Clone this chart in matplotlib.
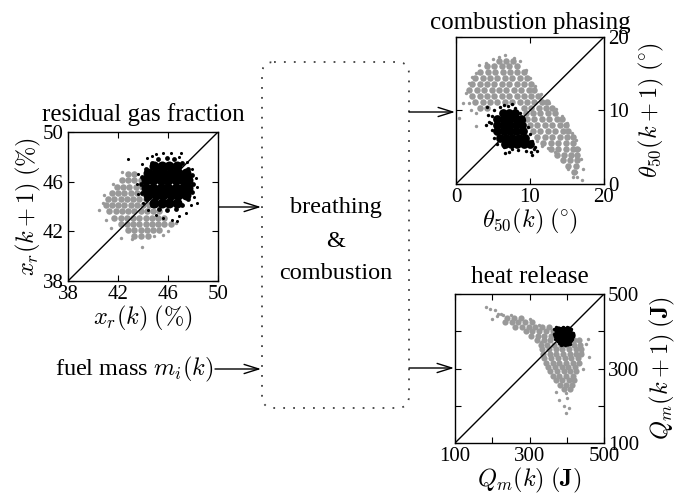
import matplotlib
matplotlib.use("Agg")
import matplotlib.pyplot as plt
from matplotlib.patches import FancyBboxPatch

plt.rcParams['font.family'] = ['Liberation Serif', 'DejaVu Serif']
plt.rcParams['mathtext.fontset'] = 'cm'
plt.rcParams['font.size'] = 15

GRAY = '0.6'
LBL = 17.5

# residual gas fraction x_r(k) vs x_r(k+1), %; open loop cloud stored row by row
xr_open_rows_y = [46.6, 46.1, 45.6, 45.1, 44.6, 44.1, 43.6, 43.1, 42.6, 42.1, 41.6]
xr_open_rows_x = [[42.8, 43.3],
                  [42.3, 42.8, 43.3, 43.8],
                  [41.9, 42.4, 42.9, 43.4, 43.9],
                  [41.5, 42.0, 42.5, 43.0, 43.5, 44.0],
                  [41.2, 41.7, 42.2, 42.7, 43.2, 43.7, 44.2],
                  [41.0, 41.5, 42.0, 42.5, 43.0, 43.5, 44.0, 44.5],
                  [41.3, 41.8, 42.3, 42.8, 43.3, 43.8, 44.3, 44.8, 45.3],
                  [41.7, 42.2, 42.7, 43.2, 43.7, 44.2, 44.7, 45.2, 45.7],
                  [42.2, 42.7, 43.2, 43.7, 44.2, 44.7, 45.2, 45.7, 46.2],
                  [42.8, 43.3, 43.8, 44.3, 44.8, 45.3],
                  [43.3, 43.8, 44.4]]
xr_open_sparse_x = [40.5, 40.9, 41.0, 41.4, 42.2, 43.1, 43.9, 44.9, 46.0, 46.6, 41.6, 42.3, 40.8, 45.6]
xr_open_sparse_y = [43.7, 44.9, 42.9, 42.3, 41.5, 41.4, 40.7, 41.6, 42.0, 42.7, 45.8, 46.8, 44.3, 41.7]
xr_ctrl_rows_y = [47.3, 46.7, 46.1, 45.5, 44.9, 44.3]
xr_ctrl_rows_x = [[44.9, 45.5, 46.1, 46.7],
                  [44.4, 45.0, 45.6, 46.2, 46.8, 47.4],
                  [44.2, 44.8, 45.4, 46.0, 46.6, 47.2, 47.6],
                  [44.2, 44.8, 45.4, 46.0, 46.6, 47.2, 47.6],
                  [44.4, 45.0, 45.6, 46.2, 46.8, 47.4],
                  [44.9, 45.5, 46.1, 46.7]]
xr_ctrl_ring_x = [48.0, 47.9, 47.6, 47.1, 46.5, 45.9, 45.2, 44.7, 44.2, 43.9, 43.8, 43.9, 44.2, 44.7, 45.3, 45.9,
                  46.6, 47.1, 47.6, 47.9]
xr_ctrl_ring_y = [45.8, 46.5, 47.0, 47.5, 47.8, 47.9, 47.8, 47.5, 47.0, 46.4, 45.8, 45.1, 44.6, 44.1, 43.8, 43.7,
                  43.8, 44.1, 44.6, 45.2]
xr_ctrl_sparse_x = [43.9, 44.3, 45.0, 45.6, 46.2, 46.9, 47.5, 47.9, 48.2, 48.3, 48.1, 47.8, 47.4, 46.9, 46.3, 45.6,
                    45.0, 44.4, 44.0, 43.6, 43.5, 43.6, 42.8, 46.7, 48.3, 47.0, 44.7]
xr_ctrl_sparse_y = [47.4, 47.9, 48.2, 48.3, 48.3, 48.0, 47.6, 47.0, 46.3, 45.6, 44.8, 44.1, 43.5, 43.2, 42.9, 43.1,
                    43.3, 43.7, 44.3, 45.0, 45.8, 46.6, 47.85, 42.8, 44.3, 48.3, 48.1]

# combustion phasing theta50(k) vs theta50(k+1), deg
th_open_rows_y = [16.8, 16.0, 15.2, 14.4, 13.6, 12.8, 12.0, 11.2, 10.4, 9.6, 8.8, 8.0, 7.2, 6.4, 5.6, 4.8, 4.0,
                  3.2, 2.4, 1.6]
th_open_rows_x = [[5.8, 6.8, 7.7],
                  [4.2, 5.2, 6.2, 7.2, 8.2],
                  [3.3, 4.3, 5.3, 6.3, 7.3, 8.3, 9.2],
                  [2.6, 3.6, 4.6, 5.6, 6.6, 7.6, 8.6, 9.6],
                  [2.2, 3.2, 4.2, 5.2, 6.2, 7.2, 8.2, 9.2, 10.1],
                  [1.8, 2.8, 3.8, 4.8, 5.8, 6.8, 7.8, 8.8, 9.8, 10.6],
                  [2.2, 3.2, 4.2, 5.2, 6.2, 7.2, 8.2, 9.2, 10.2, 11.1],
                  [2.6, 3.6, 4.6, 5.6, 6.6, 7.6, 8.6, 9.6, 10.6, 11.6, 12.3],
                  [3.2, 4.2, 9.2, 10.2, 11.2, 12.2, 13.0],
                  [9.4, 10.4, 11.4, 12.4, 13.4],
                  [9.6, 10.6, 11.6, 12.6, 13.6, 14.3],
                  [10.0, 11.0, 12.0, 13.0, 14.0, 14.8],
                  [10.4, 11.4, 12.4, 13.4, 14.4, 15.2],
                  [11.0, 12.0, 13.0, 14.0, 15.0, 15.8],
                  [11.8, 12.8, 13.8, 14.8, 15.8],
                  [12.8, 13.8, 14.8, 15.8, 16.4],
                  [13.6, 14.6, 15.6, 16.4],
                  [14.4, 15.4, 16.3],
                  [15.2, 16.2],
                  [16.0]]
th_open_sparse_x = [2.7, 4.0, 5.8, 6.6, 7.8, 8.6, 9.4, 10.0, 10.7, 11.5, 12.5, 13.5, 14.3, 15.0, 15.7, 16.2, 16.6,
                    16.9, 17.2, 17.0, 16.2, 15.2, 14.4, 13.4, 12.4, 11.6, 10.9, 1.8, 1.3, 1.8, 2.2, 2.7, 2.7,
                    0.45, 3.4, 3.1, 5.0, 1.0, 2.0, 16.4, 15.8]
th_open_sparse_y = [15.1, 16.4, 17.3, 17.5, 17.1, 16.7, 15.5, 14.4, 13.3, 12.3, 11.05, 10.2, 9.3, 8.3, 7.0, 6.0, 4.8,
                    3.4, 2.1, 0.5, 1.6, 2.1, 3.1, 4.3, 4.9, 5.2, 5.9, 11.05, 12.4, 13.7, 14.6, 9.7, 7.9,
                    9.0, 10.4, 16.2, 17.0, 11.0, 10.0, 0.9, 1.0]
th_ctrl_rows_y = [9.7, 8.85, 8.0, 7.15, 6.3, 5.45]
th_ctrl_rows_x = [[6.3, 7.15, 8.0],
                  [5.6, 6.45, 7.3, 8.15, 8.8],
                  [5.5, 6.35, 7.2, 8.05, 8.9],
                  [5.6, 6.45, 7.3, 8.15, 9.0],
                  [5.9, 6.75, 7.6, 8.45, 9.3],
                  [6.6, 7.45, 8.3, 9.15, 10.0]]
th_ctrl_sparse_x = [5.9, 7.0, 8.0, 8.7, 9.2, 9.7, 10.0, 10.3, 10.7, 11.0, 10.2, 9.4, 8.4, 7.5, 6.5, 5.6, 5.1, 4.8,
                    4.7, 4.9, 5.2, 4.3, 4.0, 6.6, 10.3, 4.25, 4.5, 7.2, 6.5, 7.6, 9.9, 10.6]
th_ctrl_sparse_y = [10.5, 10.6, 10.3, 9.6, 8.7, 7.8, 6.8, 5.8, 5.0, 4.5, 4.3, 4.5, 4.6, 4.8, 5.1, 5.5, 6.3, 7.3,
                    8.3, 9.3, 10.0, 9.4, 8.0, 4.2, 3.9, 10.5, 8.4, 4.3, 10.8, 10.9, 5.2, 4.7]

# heat release Q_m(k) vs Q_m(k+1), J
qm_open_rows_y = [436, 424, 412, 400, 388, 376, 364, 352, 340, 328, 316, 304, 292, 280, 268, 256, 246]
qm_open_rows_x = [[240, 258, 276],
                  [235, 252, 270, 288, 306],
                  [262, 280, 298, 316, 334, 352],
                  [290, 308, 326, 344, 362],
                  [305, 322, 340, 358],
                  [320, 338, 356, 420, 432],
                  [330, 348, 366, 384, 402, 420, 436],
                  [334, 352, 370, 388, 406, 424, 438],
                  [336, 354, 372, 390, 408, 426, 438],
                  [340, 358, 376, 394, 412, 430],
                  [344, 362, 380, 398, 416, 432],
                  [350, 368, 386, 404, 422],
                  [356, 374, 392, 410, 426],
                  [362, 380, 398, 416],
                  [370, 388, 406, 420],
                  [382, 398, 414],
                  [392, 408]]
qm_open_sparse_x = [184, 193, 207, 224, 198, 215, 230, 380, 398, 393, 407, 398, 456, 460, 451, 440, 402, 212, 250,
                    300, 326, 444, 330, 372]
qm_open_sparse_y = [464, 460, 456, 447, 433, 447, 443, 216, 233, 198, 193, 180, 380, 331, 367, 345, 222, 440, 444,
                    432, 418, 300, 372, 238]
qm_ctrl_rows_y = [403, 391, 379, 370]
qm_ctrl_rows_x = [[376, 390, 404],
                  [374, 388, 402, 412],
                  [378, 392, 406],
                  [388, 402]]
qm_ctrl_sparse_x = [365, 372, 390, 412, 416, 414, 410, 395, 380, 368, 366, 402, 384]
qm_ctrl_sparse_y = [405, 411, 412, 407, 395, 380, 366, 362, 368, 380, 392, 412, 364]


def unrows(rows_y, rows_x):
    xs = [x for row in rows_x for x in row]
    ys = [y for y, row in zip(rows_y, rows_x) for _ in row]
    return xs, ys


W, H = 686, 498
fig = plt.figure(figsize=(W / 100, H / 100), dpi=100)

# block diagram layer, in pixel coordinates
bg = fig.add_axes([0, 0, 1, 1])
bg.set_xlim(0, W)
bg.set_ylim(H, 0)
bg.axis('off')
bg.add_patch(FancyBboxPatch((262, 62), 147, 346, boxstyle='round,pad=0,rounding_size=12',
                            fill=False, ls=(0, (1, 4.5)), lw=1.3, ec='0.25'))
bg.text(336, 207, 'breathing', ha='center', va='center', fontsize=LBL)
bg.text(336, 241, '&', ha='center', va='center', fontsize=LBL)
bg.text(336, 273, 'combustion', ha='center', va='center', fontsize=LBL)
bg.text(213, 369, r'fuel mass $m_i(k)$', ha='right', va='center', fontsize=LBL)
arr = dict(arrowstyle='->,head_length=0.7,head_width=0.22', lw=1.0, color='black', shrinkA=0, shrinkB=0)
for (x0, y0), (x1, y1) in [((218, 207), (261, 207)), ((215, 369), (261, 369)),
                           ((409, 112), (455, 112)), ((409, 368), (454, 368))]:
    bg.annotate('', xy=(x1, y1), xytext=(x0, y0), arrowprops=arr)


def scatter_panel(ax, lim, sets):
    for xs, ys, c, s in sets:
        ax.scatter(xs, ys, s=s, c=c, marker='o', linewidths=0)
    ax.plot(lim, lim, color='black', lw=1.0)
    ax.set_xlim(lim)
    ax.set_ylim(lim)
    ax.tick_params(direction='in', length=4, width=0.8, top=True, right=True, pad=3)
    for sp in ax.spines.values():
        sp.set_linewidth(1.0)


ax1 = fig.add_axes([68 / W, 1 - 281 / H, 150 / W, 149 / H])
scatter_panel(ax1, (38, 50), [(*unrows(xr_open_rows_y, xr_open_rows_x), GRAY, 22),
                              (xr_open_sparse_x, xr_open_sparse_y, GRAY, 6),
                              (*unrows(xr_ctrl_rows_y, xr_ctrl_rows_x), 'black', 52),
                              (xr_ctrl_ring_x, xr_ctrl_ring_y, 'black', 12),
                              (xr_ctrl_sparse_x, xr_ctrl_sparse_y, 'black', 5)])
ax1.set_xticks([38, 42, 46, 50])
ax1.set_yticks([38, 42, 46, 50])
ax1.set_xlabel(r'$x_r(k)$ $(\%)$', labelpad=0, fontsize=LBL)
ax1.set_ylabel(r'$x_r(k+1)$ $(\%)$', labelpad=0, fontsize=LBL)
ax1.set_title('residual gas fraction', pad=8)

ax2 = fig.add_axes([456 / W, 1 - 184 / H, 148 / W, 147 / H])
scatter_panel(ax2, (0, 20), [(*unrows(th_open_rows_y, th_open_rows_x), GRAY, 22),
                             (th_open_sparse_x, th_open_sparse_y, GRAY, 6),
                             (*unrows(th_ctrl_rows_y, th_ctrl_rows_x), 'black', 40),
                             (th_ctrl_sparse_x, th_ctrl_sparse_y, 'black', 6)])
ax2.set_xticks([0, 10, 20])
ax2.set_yticks([0, 10, 20])
ax2.yaxis.tick_right()
ax2.tick_params(left=True, labelleft=False)
ax2.yaxis.set_label_position('right')
ax2.set_xlabel(r'$\theta_{50}(k)$ $(\!^\circ\!)$', labelpad=0, fontsize=LBL)
ax2.set_ylabel(r'$\theta_{50}(k+1)$ $(\!^\circ\!)$', labelpad=6, fontsize=LBL)
ax2.set_title('combustion phasing', pad=6)

ax3 = fig.add_axes([455 / W, 1 - 443 / H, 149 / W, 149 / H])
scatter_panel(ax3, (100, 500), [(*unrows(qm_open_rows_y, qm_open_rows_x), GRAY, 20),
                                (qm_open_sparse_x, qm_open_sparse_y, GRAY, 6),
                                (*unrows(qm_ctrl_rows_y, qm_ctrl_rows_x), 'black', 36),
                                (qm_ctrl_sparse_x, qm_ctrl_sparse_y, 'black', 6)])
qticks = [100, 200, 300, 400, 500]
qlabels = ['100', '', '300', '', '500']
ax3.set_xticks(qticks, qlabels)
ax3.set_yticks(qticks, qlabels)
ax3.yaxis.tick_right()
ax3.tick_params(left=True, labelleft=False)
ax3.yaxis.set_label_position('right')
ax3.set_xlabel(r'$Q_m(k)$ $\mathbf{(J)}$', labelpad=0, fontsize=LBL)
ax3.set_ylabel(r'$Q_m(k+1)$ $\mathbf{(J)}$', labelpad=6, fontsize=LBL)
ax3.set_title('heat release', pad=8)

fig.savefig('out.png', dpi=100)
